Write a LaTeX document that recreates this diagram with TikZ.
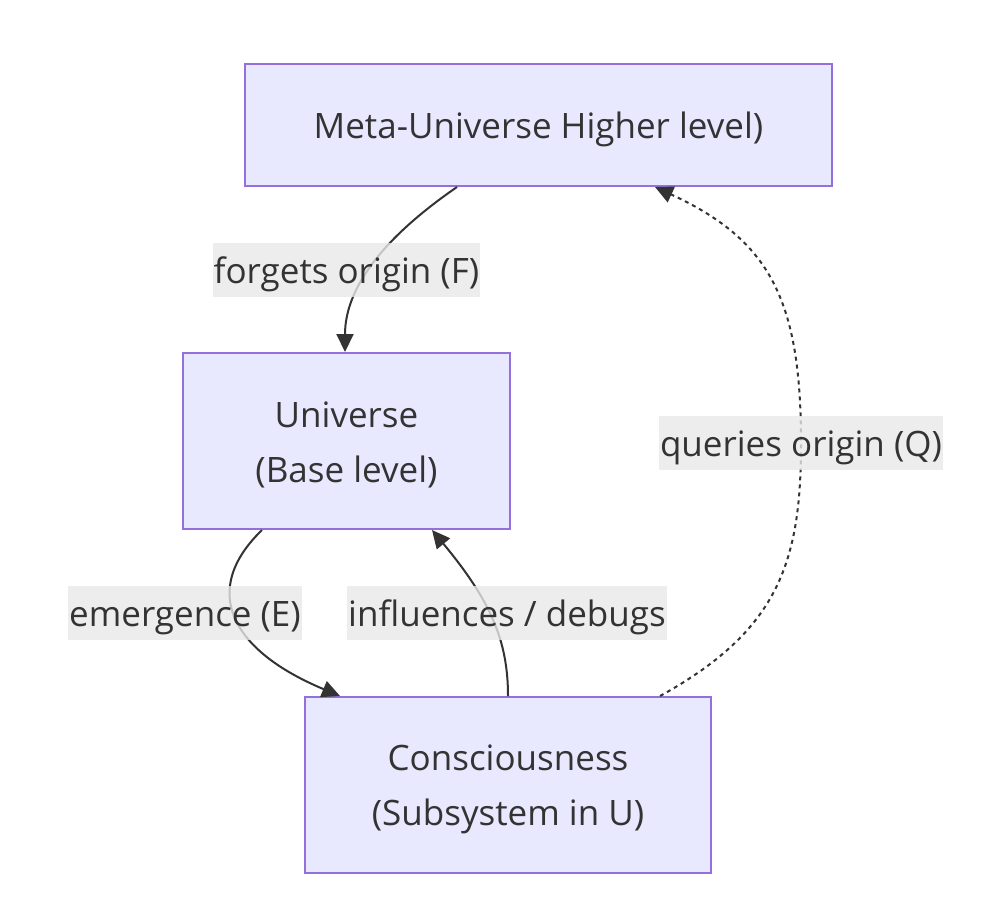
\documentclass[tikz,border=0pt]{standalone}
\usepackage{fontspec}
\setmainfont{Open Sans}
\usetikzlibrary{arrows.meta}
\definecolor{boxfill}{HTML}{E8E8FF}
\definecolor{boxline}{HTML}{9370DB}
\definecolor{txt}{HTML}{333333}
\definecolor{lblbg}{HTML}{E8E8E8}
\tikzset{
  box/.style={draw=boxline, fill=boxfill, line width=2pt, inner sep=0pt},
  boxtext/.style={align=center, text=txt, font=\fontsize{35}{55}\selectfont, inner sep=0pt},
  lbl/.style={fill=lblbg, fill opacity=0.8, text opacity=1, text=txt,
    font=\fontsize{35}{40}\selectfont, inner xsep=1pt, inner ysep=0pt,
    text height=34pt, text depth=8pt, minimum height=54pt},
  conn/.style={draw=txt, line width=2pt, -{Triangle[length=18pt,width=17pt]}},
  dotconn/.style={conn, dash pattern=on 4pt off 4pt},
}
\begin{document}
\begin{tikzpicture}[x=1pt,y=-1pt]
\useasboundingbox (0,0) rectangle (995,919);
\node[box, minimum width=587pt, minimum height=122pt] (meta) at (538.5,125) {};
\node[box, minimum width=327pt, minimum height=176pt] (uni) at (346.5,441) {};
\node[box, minimum width=406pt, minimum height=176pt] (con) at (508,785) {};
\node[boxtext] (metat) at ([yshift=-4pt]meta.center) {Meta-Universe Higher level)};
\node[boxtext] (unit) at ([yshift=-4pt]uni.center) {Universe\\(Base level)};
\node[boxtext] (cont) at ([yshift=-4pt]con.center) {Consciousness\\(Subsystem in U)};
\draw[conn] ([xshift=-81.5pt]meta.south) .. controls (380,240) and (345,290) .. ([xshift=-1.5pt]uni.north);
\draw[conn] ([xshift=-84.5pt]uni.south) .. controls (200,590) and (230,650) .. ([xshift=-168pt]con.north);
\draw[conn] (con.north) .. controls (508,640) and (490,600) .. ([xshift=85.5pt]uni.south);
\coordinate (qm) at (801,443);
\draw[dotconn] ([xshift=152pt]con.north) .. controls (780,630) and (801,560) .. (qm) .. controls (801,300) and (770,240) .. ([xshift=116.5pt]meta.south);
\node[lbl] (lf) at (346.5,270) {forgets origin (F)};
\node[lbl] (le) at (185,613) {emergence (E)};
\node[lbl] (li) at (507,613) {influences / debugs};
\node[lbl] (lq) at (801,443) {queries origin (Q)};
\end{tikzpicture}
\end{document}
